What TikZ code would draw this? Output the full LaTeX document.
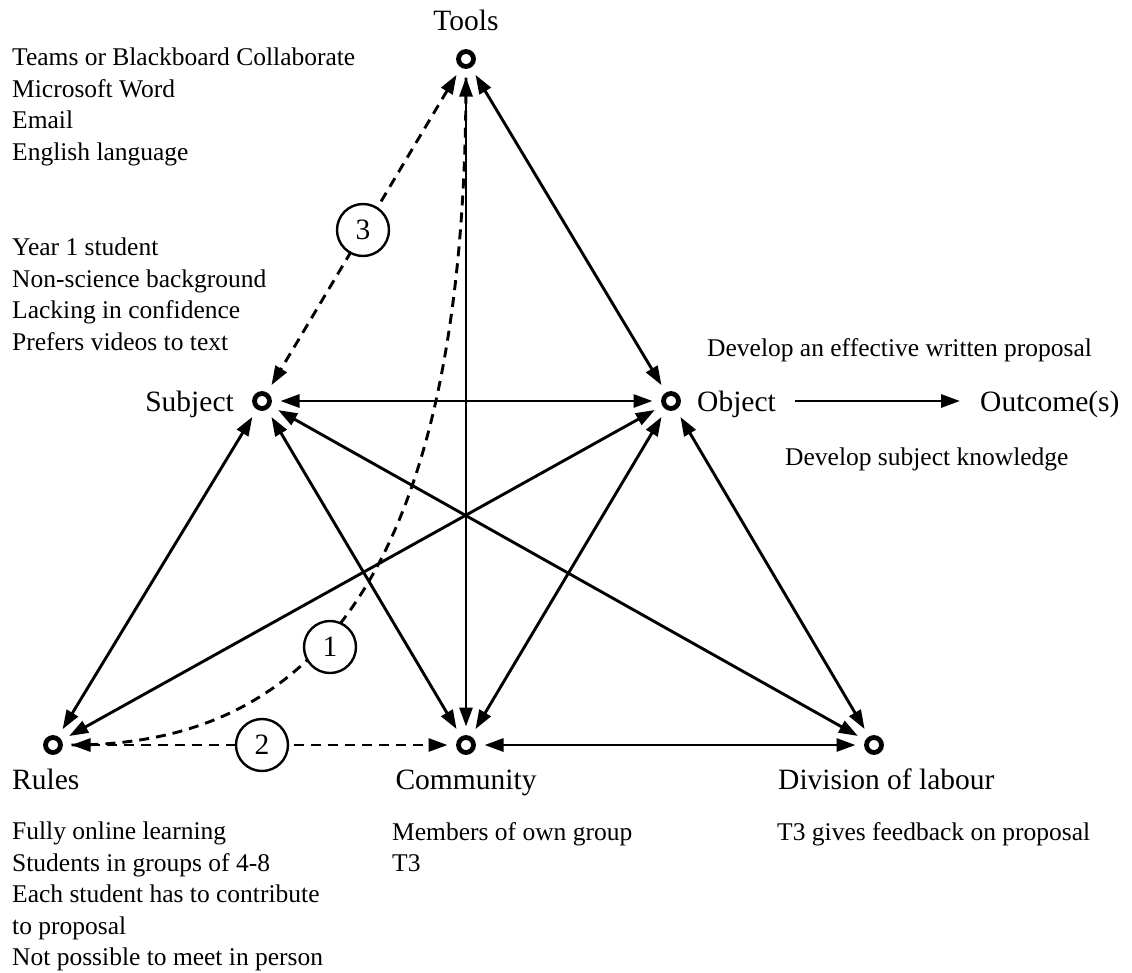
\documentclass[tikz,border=0pt]{standalone}
\usepackage{fontspec}
\setmainfont{Liberation Serif}
\usetikzlibrary{arrows.meta}
\begin{document}
\begin{tikzpicture}[x=1pt,y=-1pt,
  ring/.style={circle, draw, line width=4.8pt, minimum size=15pt, inner sep=0pt, outer sep=11pt},
  tip/.tip={Triangle[length=19pt,width=13pt]},
  link/.style={line width=2.9pt, tip-tip},
  dlink/.style={line width=2.9pt, dash pattern=on 10pt off 7pt},
  numbered/.style={circle, draw, fill=white, line width=2.4pt, minimum size=52pt, inner sep=0pt,
    font=\fontsize{29.5}{35}\selectfont},
  lbl/.style={inner sep=0pt, font=\fontsize{29.5}{35}\selectfont},
  note/.style={inner sep=0pt, align=left, font=\fontsize{25.5}{31.5}\selectfont}
]
\useasboundingbox (0,0) rectangle (1132,972);

% activity system nodes
\node[ring] (tools)     at (466,59)  {};
\node[ring] (subject)   at (262,401) {};
\node[ring] (object)    at (671,401) {};
\node[ring] (rules)     at (53,745)  {};
\node[ring] (community) at (466,745) {};
\node[ring] (division)  at (874,745) {};

% node labels
\node[lbl, anchor=base]      (toolslbl) at (466,30)  {Tools};
\node[lbl, anchor=base east] (subjlbl)  at (234,411) {Subject};
\node[lbl, anchor=base west] (objlbl)   at (697,411) {Object};
\node[lbl, anchor=base west] (outlbl)   at (980,411) {Outcome(s)};
\node[lbl, anchor=base west] (ruleslbl) at (12,789)  {Rules};
\node[lbl, anchor=base]      (commlbl)  at (466,789) {Community};
\node[lbl, anchor=base west] (divlbl)   at (778,789) {Division of labour};

% descriptions
\node[note, anchor=north west] (toolsnote) at (12,48)
  {Teams or Blackboard Collaborate\\Microsoft Word\\Email\\English language};
\node[note, anchor=north west] (subjnote) at (12,238)
  {Year 1 student\\Non-science background\\Lacking in confidence\\Prefers videos to text};
\node[note, anchor=base west] (objnotea) at (707,356) {Develop an effective written proposal};
\node[note, anchor=base west] (objnoteb) at (785,465) {Develop subject knowledge};
\node[note, anchor=north west] (rulesnote) at (12,822)
  {Fully online learning\\Students in groups of 4-8\\Each student has to contribute\\to proposal\\Not possible to meet in person};
\node[note, anchor=north west] (commnote) at (392,822) {Members of own group\\T3};
\node[note, anchor=north west] (divnote) at (777,822) {T3 gives feedback on proposal};

% solid two-way connectors
\draw[link] (tools) -- (community);
\draw[link] (tools) -- (object);
\draw[link] (subject) -- (object);
\draw[link] (subject) -- (rules);
\draw[link] (subject) -- (community);
\draw[link] (subject) -- (division);
\draw[link] (object) -- (rules);
\draw[link] (object) -- (community);
\draw[link] (object) -- (division);
\draw[link] (community) -- (division);
\draw[line width=2.9pt, -tip, shorten <=19pt, shorten >=20pt]
  (objlbl.east |- object) -- (outlbl.west |- object);

% dashed contradictions
\draw[dlink, tip-tip] (tools) -- (subject);
\draw[dlink, tip-tip] (rules) -- (community);
\draw[dlink] (rules.east) .. controls (280,745) and (466,620) .. (tools.south);

% numbered markers
\node[numbered] (n1) at (330,647) {1};
\node[numbered] (n2) at (262,745) {2};
\node[numbered] (n3) at (363,230) {3};
\end{tikzpicture}
\end{document}
